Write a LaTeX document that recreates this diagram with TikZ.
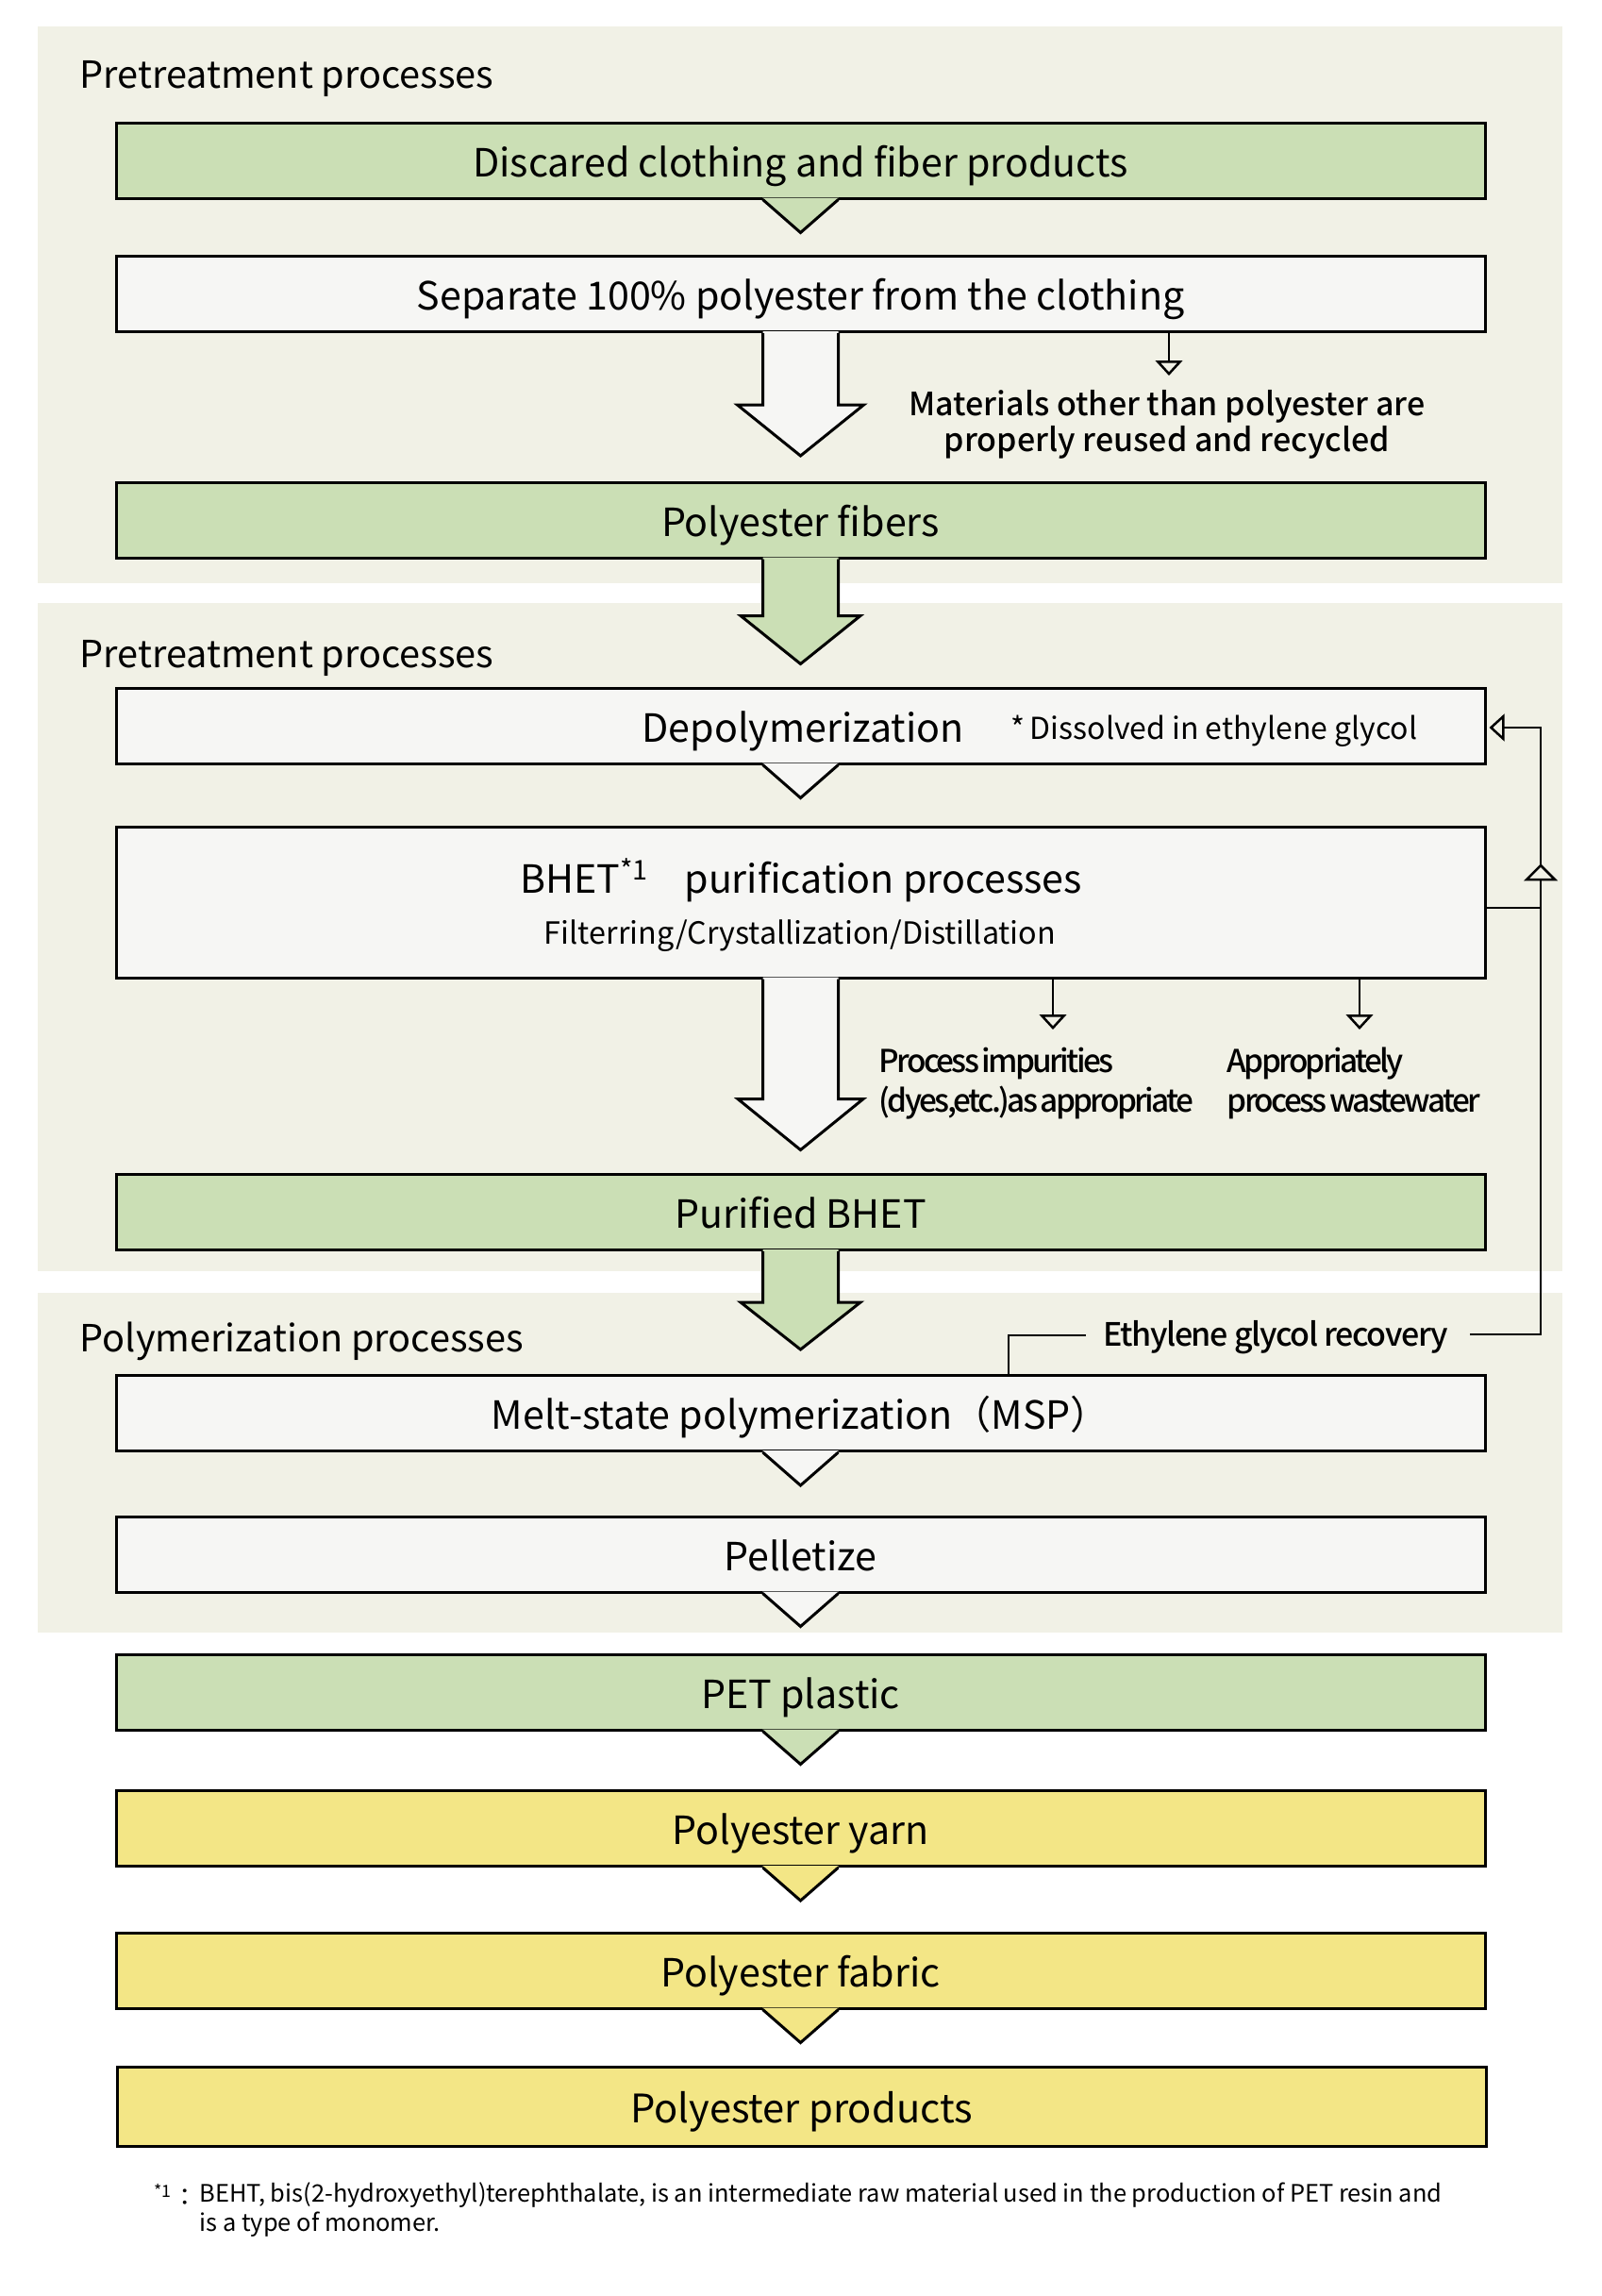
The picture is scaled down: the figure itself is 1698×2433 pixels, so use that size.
\documentclass[tikz,border=0pt]{standalone}
\usepackage{fontspec}
\setmainfont{Noto Sans CJK JP}[BoldFont={Noto Sans CJK JP Medium}]
\newfontfamily\tightfont{Noto Sans CJK JP Medium}[LetterSpace=-8,WordSpace=0.5]
\usetikzlibrary{arrows.meta,calc}
\definecolor{panel}{RGB}{241,241,230}
\definecolor{grn}{RGB}{203,223,181}
\definecolor{ylw}{RGB}{243,230,134}
\definecolor{wht}{RGB}{246,246,244}
\tikzset{
  txt/.style={text height=1.0em, text depth=0.18em},
  box/.style={draw=black, line width=0.9pt, minimum width=435.3pt, minimum height=24pt, inner sep=0pt, text height=1.2em, text depth=0.18em, font=\fontsize{12.35}{14}\selectfont},
  greenbox/.style={box, fill=grn},
  whitebox/.style={box, fill=wht},
  yellowbox/.style={box, fill=ylw},
  conn/.style={line width=0.75pt, line join=miter},
  openhead/.style={-{Triangle[open, length=4.8pt, width=8.6pt, line width=0.75pt]}},
  seclabel/.style={anchor=west, inner sep=0pt, txt, font=\fontsize{11.9}{14}\selectfont},
  sidenote/.style={inner sep=0pt, align=center, font=\fontsize{10.2}{11.4}\selectfont\bfseries},
  sidenoteL/.style={inner sep=0pt, align=left, anchor=west, font=\tightfont\fontsize{10}{12.6}\selectfont},
}
\newcommand\tipdown[2]{%
  \fill[#2] ($(#1.south)+(-40.5,-2)$) -- ($(#1.south)+(0,35)$) -- ($(#1.south)+(40.5,-2)$) -- cycle;
  \draw[line width=0.9pt, line join=miter] ($(#1.south)+(-40,0)$) -- ($(#1.south)+(0,35)$) -- ($(#1.south)+(40,0)$);}
\newcommand\bigarrow[5]{%
  \fill[#2] ($(#1.south)+(-40,-2)$) -- ($(#1.south)+(-40,#3)$) -- ($(#1.south)+(-#4,#3)$) -- ($(#1.south)+(0,#5)$) -- ($(#1.south)+(#4,#3)$) -- ($(#1.south)+(40,#3)$) -- ($(#1.south)+(40,-2)$) -- cycle;
  \draw[line width=0.9pt, line join=miter] ($(#1.south)+(-40,0)$) -- ($(#1.south)+(-40,#3)$) -- ($(#1.south)+(-#4,#3)$) -- ($(#1.south)+(0,#5)$) -- ($(#1.south)+(#4,#3)$) -- ($(#1.south)+(40,#3)$) -- ($(#1.south)+(40,0)$);}
\begin{document}
\begin{tikzpicture}[x=0.3pt, y=-0.3pt]
\useasboundingbox (0,0) rectangle (1698,2433);
\fill[white] (0,0) rectangle (1698,2433);
% panels
\fill[panel] (40,28) rectangle (1656,618);
\fill[panel] (40,639) rectangle (1656,1347);
\fill[panel] (40,1370) rectangle (1656,1730);
\node[seclabel] (s1) at (84,80) {Pretreatment processes};
\node[seclabel] (s2) at (84,694) {Pretreatment processes};
\node[seclabel] (s3) at (84,1419) {Polymerization processes};

% boxes
\node[greenbox] (b1) at (848.5,170) {Discared clothing and fiber products};
\node[whitebox] (b2) at (848.5,311.5) {Separate 100\% polyester from the clothing};
\node[greenbox] (b3) at (848.5,551) {Polyester fibers};
\node[whitebox] (b4) at (848.5,769) {};
\node[inner sep=0pt, txt, font=\fontsize{12.35}{14}\selectfont] (b4t) at (851,773) {Depolymerization};
\node[anchor=west, inner sep=0pt, txt, font=\fontsize{9.6}{11}\selectfont] (b4n) at (1071,770) {*\,Dissolved in ethylene glycol};
\node[whitebox, minimum height=48pt] (b5) at (848.5,956) {};
\node[inner sep=0pt, txt, font=\fontsize{12.35}{14}\selectfont] (b5t) at (849,933) {BHET\textsuperscript{*1}\hspace{0.9em}purification processes};
\node[inner sep=0pt, txt, font=\fontsize{9.7}{11}\selectfont] (b5s) at (848,987) {Filterring/Crystallization/Distillation};
\node[greenbox] (b6) at (848.5,1284.5) {Purified BHET};
\node[whitebox] (b7) at (848.5,1497.5) {Melt-state polymerization（MSP）};
\node[whitebox] (b8) at (848.5,1647) {Pelletize};
\node[greenbox] (b9) at (848.5,1793) {PET plastic};
\node[yellowbox] (b10) at (848.5,1937.5) {Polyester yarn};
\node[yellowbox] (b11) at (848.5,2088) {Polyester fabric};
\node[yellowbox, minimum height=25.2pt, font=\fontsize{12.5}{14}\selectfont] (b12) at (849.5,2232) {Polyester products};

% pointers
\tipdown{b1}{grn}
\tipdown{b4}{wht}
\tipdown{b7}{wht}
\tipdown{b8}{wht}
\tipdown{b9}{grn}
\tipdown{b10}{ylw}
\tipdown{b11}{ylw}

% block arrows
\bigarrow{b2}{wht}{76}{67}{130}
\bigarrow{b3}{grn}{60}{63.5}{111}
\bigarrow{b5}{wht}{127}{66.5}{181}
\bigarrow{b6}{grn}{54}{63.5}{104}

% side notes
\node[sidenote] (n1) at (1237,450) {Materials other than polyester are\\properly reused and recycled};
\coordinate (n1a) at (1239,398);
\draw[conn, openhead] (b2.south -| n1a) -- (n1a);

\node[sidenoteL] (n2) at (931,1148) {Process impurities\\(dyes,etc.)as appropriate};
\node[sidenoteL] (n3) at (1300,1148) {Appropriately\\process wastewater};
\coordinate (n2a) at (1116,1091);
\coordinate (n3a) at (1441,1091);
\draw[conn, openhead] (b5.south -| n2a) -- (n2a);
\draw[conn, openhead] (b5.south -| n3a) -- (n3a);

% ethylene glycol recovery loop
\node[inner sep=0pt, txt, font=\fontsize{10.2}{12}\selectfont\bfseries\addfontfeatures{LetterSpace=-4}] (eg) at (1352,1413) {Ethylene glycol recovery};
\coordinate (r1) at (1069,1415);
\coordinate (r2) at (1151,1415);
\draw[conn] (b7.north -| r1) -- (r1) -- (r2);
\coordinate (r3) at (1558,1414);
\coordinate (r4) at (1633,1414);
\coordinate (r5) at (1633,771);
\draw[conn, openhead] (r3) -- (r4) -- (r5) -- ($(b4.east)+(3,2)$);
\coordinate (r6) at (1633,962);
\draw[conn] ($(b5.east)+(0,6)$) -- (r6);
\draw[conn, fill=panel] (1618,932) -- (1633,917) -- (1648,932) -- cycle;

% footnote
\node[anchor=west, inner sep=0pt, font=\fontsize{7.63}{9.3}\selectfont] (fnm) at (163,2326) {\textsuperscript{*1}：};
\node[anchor=west, inner sep=0pt, align=left, font=\fontsize{7.63}{9.3}\selectfont] (fnt) at (211,2341.5) {BEHT, bis(2-hydroxyethyl)terephthalate, is an intermediate raw material used in the production of PET resin and\\is a type of monomer.};
\end{tikzpicture}
\end{document}
